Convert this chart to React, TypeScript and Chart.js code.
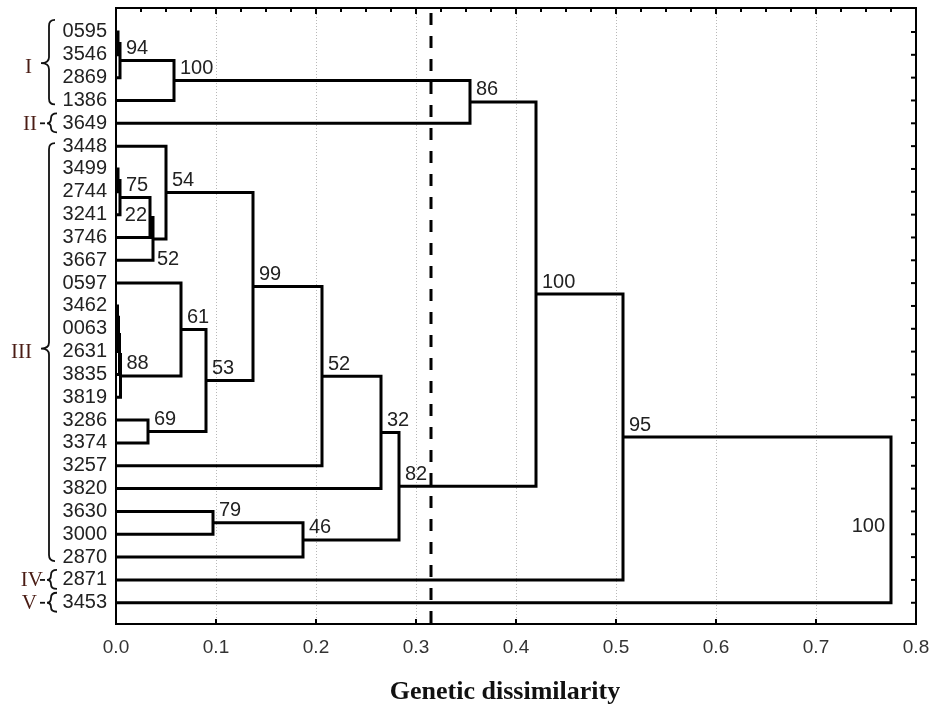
import React, { useEffect, useRef } from 'react';
import { Chart, registerables } from 'chart.js';

Chart.register(...registerables);

// ---- data ----
const rowLabels = [
  '0595', '3546', '2869', '1386', '3649', '3448', '3499', '2744', '3241', '3746',
  '3667', '0597', '3462', '0063', '2631', '3835', '3819', '3286', '3374', '3257',
  '3820', '3630', '3000', '2870', '2871', '3453',
];
// merges (leaf indices 0..25, merge k is referenced as 26 + k)
const mergeLeft = [0, 26, 27, 28, 6, 30, 31, 32, 5, 12, 35, 36, 37, 11, 17, 39, 34, 42, 43, 21, 45, 44, 29, 48, 49];
const mergeRight = [1, 2, 3, 4, 7, 8, 9, 10, 33, 13, 14, 15, 16, 38, 18, 40, 41, 19, 20, 22, 23, 46, 47, 24, 25];
const mergeHeight = [
  0.002, 0.004, 0.058, 0.354, 0.002, 0.004, 0.034, 0.037, 0.05, 0.0015, 0.0025, 0.0035, 0.0045,
  0.065, 0.032, 0.09, 0.137, 0.206, 0.265, 0.097, 0.187, 0.283, 0.42, 0.507, 0.775,
];
const mergeSupport = [
  '', '94', '100', '86', '', '75', '22', '52', '54', '', '', '', '88',
  '61', '69', '53', '99', '52', '32', '79', '46', '82', '100', '95', '100',
];
const cutoff = 0.315;
const xTicks = [0, 0.1, 0.2, 0.3, 0.4, 0.5, 0.6, 0.7, 0.8];
const groupNames = ['I', 'II', 'III', 'IV', 'V'];
const groupFirst = [0, 4, 5, 24, 25];
const groupLast = [3, 4, 23, 24, 25];
const xTitle = 'Genetic dissimilarity';

// ---- derived tree geometry (data units) ----
const nodeX: number[] = rowLabels.map(() => 0);
const nodeY: number[] = rowLabels.map((_, i) => i);
mergeLeft.forEach((a, k) => {
  const b = mergeRight[k];
  nodeX.push(mergeHeight[k]);
  nodeY.push((nodeY[a] + nodeY[b]) / 2);
});
const segPoints: { x: number; y: number | null }[] = [];
mergeLeft.forEach((a, k) => {
  const b = mergeRight[k];
  const h = mergeHeight[k];
  segPoints.push({ x: nodeX[a], y: nodeY[a] });
  segPoints.push({ x: h, y: nodeY[a] });
  segPoints.push({ x: h, y: nodeY[b] });
  segPoints.push({ x: nodeX[b], y: nodeY[b] });
  segPoints.push({ x: h, y: null });
});

const Y_MIN = -1.05;
const Y_MAX = 25.93;
const SANS = "'Liberation Sans', Arial, sans-serif";
const SERIF = "'Liberation Serif', 'Times New Roman', serif";

function brace(ctx: CanvasRenderingContext2D, xTip: number, xBody: number, xEnd: number, yTop: number, yMid: number, yBot: number) {
  const r1 = Math.min(6, (yMid - yTop) / 2);
  const r2 = Math.min(6, (yBot - yMid) / 2);
  ctx.beginPath();
  ctx.moveTo(xEnd, yTop);
  ctx.quadraticCurveTo(xBody, yTop, xBody, yTop + r1);
  ctx.lineTo(xBody, yMid - r1);
  ctx.quadraticCurveTo(xBody, yMid, xTip, yMid);
  ctx.quadraticCurveTo(xBody, yMid, xBody, yMid + r2);
  ctx.lineTo(xBody, yBot - r2);
  ctx.quadraticCurveTo(xBody, yBot, xEnd, yBot);
  ctx.stroke();
}

const overlay = {
  id: 'dendroOverlay',
  beforeDatasetsDraw(chart: any) {
    const { ctx, chartArea: a, scales } = chart;
    const x = scales.x;
    ctx.save();
    ctx.strokeStyle = '#b8b8b8';
    ctx.lineWidth = 1;
    ctx.setLineDash([1, 2]);
    xTicks.forEach((v) => {
      const px = Math.round(x.getPixelForValue(v)) + 0.5;
      ctx.beginPath();
      ctx.moveTo(px, a.top);
      ctx.lineTo(px, a.bottom);
      ctx.stroke();
    });
    ctx.restore();
  },
  afterDatasetsDraw(chart: any) {
    const { ctx, chartArea: a, scales } = chart;
    const x = scales.x;
    const y = scales.y;
    ctx.save();
    // frame
    ctx.strokeStyle = '#000';
    ctx.lineWidth = 2;
    ctx.strokeRect(a.left, a.top, a.right - a.left, a.bottom - a.top);
    // top ticks (major + minor), bottom major ticks
    for (let i = 0; i <= 32; i++) {
      const px = x.getPixelForValue(i * 0.025);
      const major = i % 4 === 0;
      ctx.beginPath();
      ctx.moveTo(px, a.top);
      ctx.lineTo(px, a.top + (major ? 6 : 4));
      ctx.stroke();
      if (major) {
        ctx.beginPath();
        ctx.moveTo(px, a.bottom);
        ctx.lineTo(px, a.bottom - 5);
        ctx.stroke();
      }
    }
    // right ticks at rows
    rowLabels.forEach((_, i) => {
      const py = y.getPixelForValue(i);
      ctx.beginPath();
      ctx.moveTo(a.right, py);
      ctx.lineTo(a.right - 5, py);
      ctx.stroke();
    });

    // support labels
    ctx.fillStyle = '#222';
    ctx.font = `20px ${SANS}`;
    ctx.textBaseline = 'middle';
    mergeSupport.forEach((s, k) => {
      if (!s) return;
      const px = x.getPixelForValue(mergeHeight[k]);
      const py = y.getPixelForValue(nodeY[26 + k]);
      if (k === 6) {
        ctx.textAlign = 'right';
        ctx.fillText(s, px - 3, py - 2);
      } else if (k === 7) {
        ctx.textAlign = 'left';
        ctx.fillText(s, px + 4, py + 21);
      } else if (k === 24) {
        ctx.textAlign = 'right';
        ctx.fillText(s, px - 6, py + 7);
      } else {
        ctx.textAlign = 'left';
        ctx.fillText(s, px + 6, py - 12);
      }
    });

    // braces and group numerals
    ctx.strokeStyle = '#111';
    ctx.lineWidth = 1.8;
    ctx.setLineDash([]);
    const rowPx = (r: number) => y.getPixelForValue(r);
    groupNames.forEach((g, i) => {
      const f = groupFirst[i];
      const l = groupLast[i];
      let yNum;
      let xNum;
      if (f === l) {
        const c = rowPx(f);
        const top = c - 10;
        const bot = c + 9;
        brace(ctx, 47, 51, 57, top, c, bot);
        ctx.beginPath();
        ctx.moveTo(40, c);
        ctx.lineTo(45, c);
        ctx.stroke();
        yNum = c;
        xNum = 37;
      } else {
        const top = rowPx(f) - (f === 0 ? 12 : 3);
        const bot = rowPx(l) + 4;
        const mid = (rowPx(f) + rowPx(l)) / 2 - 3;
        brace(ctx, 41, 49, 55, top, mid, bot);
        yNum = mid + 3;
        xNum = 32;
      }
      ctx.fillStyle = '#4a1c14';
      ctx.font = `21px ${SERIF}`;
      ctx.textAlign = 'right';
      ctx.textBaseline = 'middle';
      ctx.fillText(g, g === 'IV' ? 43 : xNum, yNum + 1);
    });

    // x title
    ctx.fillStyle = '#111';
    ctx.font = `bold 26px ${SERIF}`;
    ctx.textAlign = 'center';
    ctx.textBaseline = 'middle';
    ctx.fillText(xTitle, 505, 692);
    ctx.restore();
  },
};

export default function App() {
  const ref = useRef<HTMLCanvasElement | null>(null);
  useEffect(() => {
    if (!ref.current) return;
    Chart.defaults.font.family = SANS;
    const chart = new Chart(ref.current, {
      type: 'line',
      data: {
        datasets: [
          {
            data: segPoints as any,
            borderColor: '#000',
            borderWidth: 3,
            pointRadius: 0,
            tension: 0,
            spanGaps: false,
            borderJoinStyle: 'miter',
            borderCapStyle: 'square',
          },
          {
            data: [
              { x: cutoff, y: Y_MIN },
              { x: cutoff, y: Y_MAX },
            ],
            borderColor: '#000',
            borderWidth: 3,
            pointRadius: 0,
            borderDash: [12, 11],
            borderDashOffset: 18,
          },
        ],
      },
      options: {
        animation: false,
        responsive: false,
        maintainAspectRatio: false,
        parsing: true,
        layout: { padding: { top: 8, right: 15, left: 0, bottom: 0 } },
        plugins: { legend: { display: false }, tooltip: { enabled: false }, title: { display: false } },
        scales: {
          x: {
            type: 'linear',
            min: 0,
            max: 0.8,
            afterBuildTicks: (s: any) => {
              s.ticks = xTicks.map((v) => ({ value: v }));
            },
            afterFit: (s: any) => {
              s.height = 85;
              s.paddingLeft = 0;
              s.paddingRight = 0;
            },
            grid: { display: false, drawTicks: false },
            border: { display: false },
            ticks: {
              callback: (v: any) => Number(v).toFixed(1),
              font: { size: 19, family: SANS },
              color: '#333',
              padding: 12,
              maxRotation: 0,
              autoSkip: false,
            },
          },
          y: {
            type: 'linear',
            reverse: true,
            min: Y_MIN,
            max: Y_MAX,
            afterBuildTicks: (s: any) => {
              s.ticks = rowLabels.map((_, i) => ({ value: i }));
            },
            afterFit: (s: any) => {
              s.width = 116;
              s.paddingTop = 0;
              s.paddingBottom = 0;
            },
            grid: { display: false, drawTicks: false },
            border: { display: false },
            ticks: {
              callback: (v: any) => rowLabels[v] ?? '',
              font: { size: 20, family: SANS },
              color: '#222',
              padding: 9,
              autoSkip: false,
            },
          },
        },
      },
      plugins: [overlay],
    });
    return () => chart.destroy();
  }, []);
  return (
    <div style={{ position: 'fixed', left: 0, top: 0, width: 931, height: 709, background: '#fff' }}>
      <canvas ref={ref} width={931} height={709} />
    </div>
  );
}
